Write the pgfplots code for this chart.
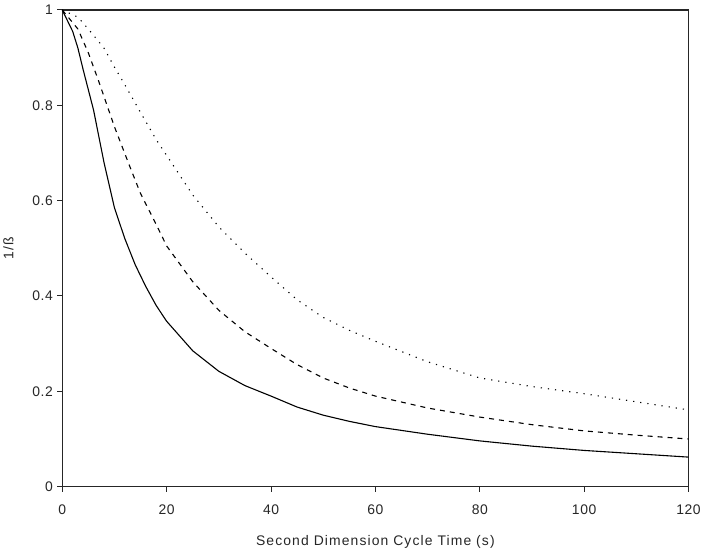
\documentclass[border=0pt]{standalone}
\usepackage{pgfplots}
\pgfplotsset{compat=1.18}
\usepackage{fontspec}
\setmainfont{Liberation Sans}
\newfontfamily\ticksfont[LetterSpace=4]{Liberation Sans}
\newfontfamily\labfont[LetterSpace=8]{Liberation Sans}
\begin{document}
\begin{tikzpicture}
\begin{axis}[
  scale only axis,
  width=628bp, height=478bp,
  xmin=0, xmax=120, ymin=0, ymax=1,
  xtick={0,20,...,120},
  ytick={0,0.2,0.4,0.6,0.8,1},
  xtick pos=left, ytick pos=left,
  tick align=outside,
  major tick length=5bp,
  axis line style={line width=1.1bp, black!85},
  every tick/.style={line width=1bp, black!85},
  tick label style={font=\ticksfont\fontsize{14}{16}\selectfont, text=black!85},
  /pgf/number format/assume math mode=true,
  xticklabel style={yshift=-10bp},
  yticklabel style={xshift=-1bp},
  xlabel={Second Dimension Cycle Time (s)},
  ylabel={1/ß},
  label style={font=\labfont\fontsize{14}{16}\selectfont, text=black!85},
  xlabel style={yshift=-14bp},
  ylabel style={yshift=12bp},
  clip=false,
]
\addplot[black, line width=1.1bp] coordinates {
(0,1.0) (2,0.955) (3,0.92) (4,0.875) (6,0.79) (8,0.68) (10,0.585) (12,0.52) (14,0.465) (16,0.42) (18,0.38) (20,0.347) (25,0.285) (30,0.242) (35,0.212) (40,0.19) (45,0.167) (50,0.15) (55,0.137) (60,0.126) (70,0.11) (80,0.096) (90,0.085) (100,0.076) (110,0.069) (120,0.062)
};
\addplot[black, line width=1.1bp, dash pattern=on 5bp off 5bp] coordinates {
(0,1.0) (3,0.96) (5,0.91) (7,0.85) (10,0.755) (13,0.67) (15,0.615) (18,0.55) (20,0.505) (25,0.43) (30,0.37) (35,0.325) (40,0.29) (45,0.256) (50,0.228) (55,0.207) (60,0.19) (70,0.165) (80,0.146) (90,0.13) (100,0.117) (110,0.108) (120,0.10)
};
\addplot[black, line width=1.1bp, dash pattern=on 1.2bp off 6bp] coordinates {
(0,1.0) (3,0.985) (5,0.96) (8,0.92) (10,0.88) (12,0.843) (15,0.785) (18,0.728) (20,0.695) (25,0.612) (30,0.545) (35,0.49) (40,0.44) (45,0.392) (50,0.355) (55,0.328) (60,0.305) (70,0.262) (80,0.228) (90,0.21) (100,0.195) (110,0.178) (120,0.161)
};
\end{axis}
\path (current axis.south west) ++(-62bp,-64bp) rectangle ++(704bp,552bp);
\end{tikzpicture}
\end{document}
